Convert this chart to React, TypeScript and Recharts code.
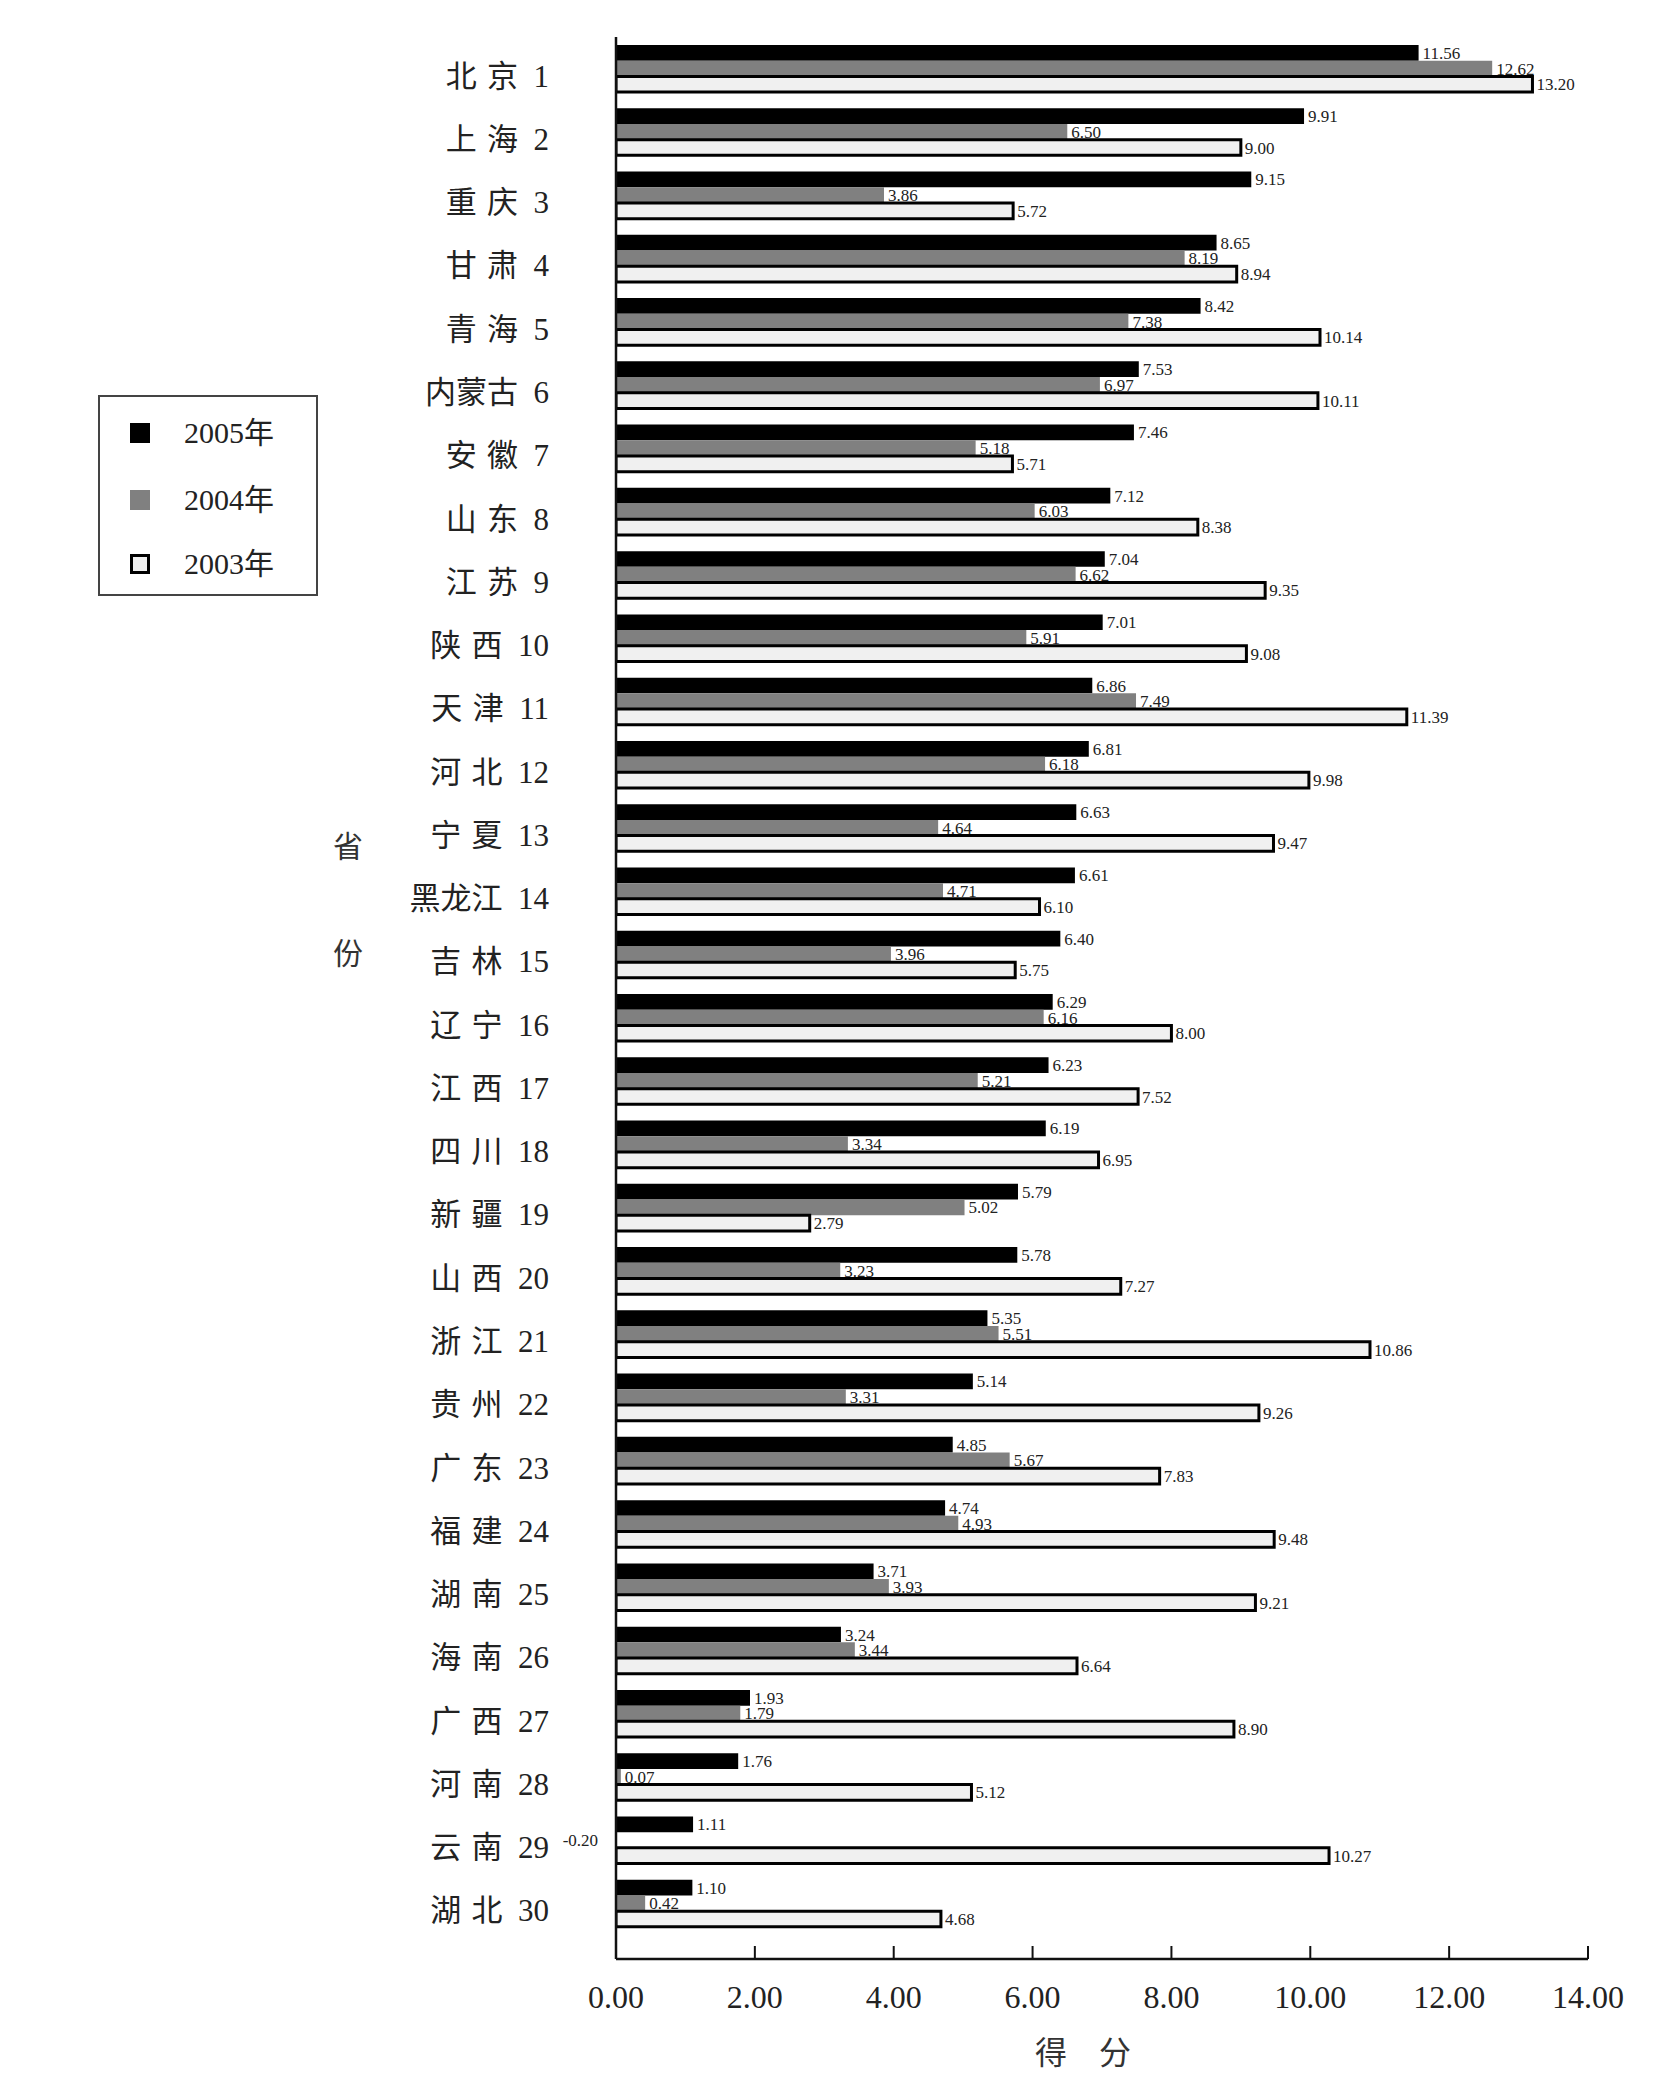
import React from 'react';
import { BarChart, Bar, XAxis, YAxis, LabelList } from 'recharts';

const provinces = [
  '北京', '上海', '重庆', '甘肃', '青海', '内蒙古', '安徽', '山东', '江苏', '陕西',
  '天津', '河北', '宁夏', '黑龙江', '吉林', '辽宁', '江西', '四川', '新疆', '山西',
  '浙江', '贵州', '广东', '福建', '湖南', '海南', '广西', '河南', '云南', '湖北',
];
const score2005 = [
  11.56, 9.91, 9.15, 8.65, 8.42, 7.53, 7.46, 7.12, 7.04, 7.01,
  6.86, 6.81, 6.63, 6.61, 6.40, 6.29, 6.23, 6.19, 5.79, 5.78,
  5.35, 5.14, 4.85, 4.74, 3.71, 3.24, 1.93, 1.76, 1.11, 1.10,
];
const score2004 = [
  12.62, 6.50, 3.86, 8.19, 7.38, 6.97, 5.18, 6.03, 6.62, 5.91,
  7.49, 6.18, 4.64, 4.71, 3.96, 6.16, 5.21, 3.34, 5.02, 3.23,
  5.51, 3.31, 5.67, 4.93, 3.93, 3.44, 1.79, 0.07, -0.20, 0.42,
];
const score2003 = [
  13.20, 9.00, 5.72, 8.94, 10.14, 10.11, 5.71, 8.38, 9.35, 9.08,
  11.39, 9.98, 9.47, 6.10, 5.75, 8.00, 7.52, 6.95, 2.79, 7.27,
  10.86, 9.26, 7.83, 9.48, 9.21, 6.64, 8.90, 5.12, 10.27, 4.68,
];
const xTicks = [0, 2, 4, 6, 8, 10, 12, 14];
const seriesNames = ['2005年', '2004年', '2003年'];
const xTitle = '得\u3000分';
const yTitle = ['省', '份'];

const FONT = "'Liberation Serif', 'Noto Sans CJK SC', serif";

const data = provinces.map((name, i) => ({
  name,
  y2005: score2005[i],
  y2004: score2004[i],
  y2003: score2003[i],
}));

const series = [
  { key: 'y2005', name: seriesNames[0], fill: '#000000', stroke: 'none', strokeWidth: 0 },
  { key: 'y2004', name: seriesNames[1], fill: '#808080', stroke: 'none', strokeWidth: 0 },
  { key: 'y2003', name: seriesNames[2], fill: '#f0f0f0', stroke: '#000000', strokeWidth: 3 },
];

const ProvinceTick = (props: any) => {
  const { x, y, payload } = props;
  const name: string = payload.value;
  const spaced = name.length === 2 ? name[0] + '\u2004' + name[1] : name;
  const label = spaced + '\u2002' + (payload.index + 1);
  return (
    <text x={x - 67} y={y} dy={18} textAnchor="end" fontSize={31} fill="#222" fontFamily={FONT}>
      {label}
    </text>
  );
};

const ScoreTick = (props: any) => {
  const { x, y, payload } = props;
  return (
    <g>
      <line x1={x} x2={x} y1={y} y2={y - 13} stroke="#111" strokeWidth={2} />
      <text x={x} y={y + 38} dy={11} textAnchor="middle" fontSize={32} fill="#222" fontFamily={FONT}>
        {Number(payload.value).toFixed(2)}
      </text>
    </g>
  );
};

const ValueLabel = (props: any) => {
  const vb = props.viewBox ?? props;
  const { x, y, width, height } = vb;
  const value = Number(props.value);
  const neg = value < 0;
  const tx = neg ? Math.min(x, x + width) - 4 : x + width + 4;
  return (
    <text
      x={tx}
      y={y + height / 2}
      dy={6}
      textAnchor={neg ? 'end' : 'start'}
      fontSize={17}
      fill="#222"
      fontFamily={FONT}
    >
      {value.toFixed(2)}
    </text>
  );
};

const LegendBox = () => (
  <div
    style={{
      position: 'absolute',
      left: 98,
      top: 395,
      width: 220,
      height: 201,
      border: '2px solid #444',
      boxSizing: 'border-box',
      fontFamily: FONT,
      fontSize: 30,
      color: '#222',
    }}
  >
    {series.map((s, i) => (
      <div key={s.key} style={{ position: 'absolute', left: 0, top: [36, 103, 167][i] - 20, height: 40, width: '100%' }}>
        <div
          style={{
            position: 'absolute',
            left: 30,
            top: 10,
            width: 20,
            height: 20,
            boxSizing: 'border-box',
            background: s.fill,
            border: s.strokeWidth ? '3px solid #000' : 'none',
          }}
        />
        <div style={{ position: 'absolute', left: 84, top: 0, lineHeight: '40px' }}>{s.name}</div>
      </div>
    ))}
  </div>
);

export default function App() {
  return (
    <div style={{ position: 'absolute', left: 0, top: 0, width: 1675, height: 2097, background: '#fff' }}>
      <BarChart
        width={1675}
        height={2097}
        data={data}
        layout="vertical"
        margin={{ top: 37, right: 87, bottom: 78, left: 0 }}
        barGap={0}
        barSize={15.7}
        style={{ position: 'absolute', left: 0, top: 0 }}
      >
        <XAxis
          type="number"
          domain={[0, 14]}
          ticks={xTicks}
          interval={0}
          allowDataOverflow
          tickLine={false}
          tickSize={0}
          tickMargin={0}
          height={60}
          axisLine={{ stroke: '#111', strokeWidth: 2.5 }}
          tick={<ScoreTick />}
        />
        <YAxis
          type="category"
          dataKey="name"
          width={616}
          interval={0}
          tickLine={false}
          tickSize={0}
          tickMargin={0}
          padding={{ top: 0, bottom: 24 }}
          axisLine={{ stroke: '#111', strokeWidth: 2.5 }}
          tick={<ProvinceTick />}
        />
        {series.map((s) => (
          <Bar
            key={s.key}
            dataKey={s.key}
            name={s.name}
            fill={s.fill}
            stroke={s.stroke}
            strokeWidth={s.strokeWidth}
            isAnimationActive={false}
          >
            <LabelList dataKey={s.key} content={<ValueLabel />} />
          </Bar>
        ))}
      </BarChart>
      <LegendBox />
      {yTitle.map((t, i) => (
        <div
          key={t}
          style={{
            position: 'absolute',
            left: 330,
            top: [830, 937][i],
            width: 36,
            textAlign: 'center',
            fontFamily: FONT,
            fontSize: 30,
            lineHeight: '34px',
            color: '#333',
          }}
        >
          {t}
        </div>
      ))}
      <div
        style={{
          position: 'absolute',
          left: 983,
          top: 2035,
          width: 200,
          textAlign: 'center',
          fontFamily: FONT,
          fontSize: 32,
          lineHeight: '36px',
          color: '#333',
        }}
      >
        {xTitle}
      </div>
    </div>
  );
}
